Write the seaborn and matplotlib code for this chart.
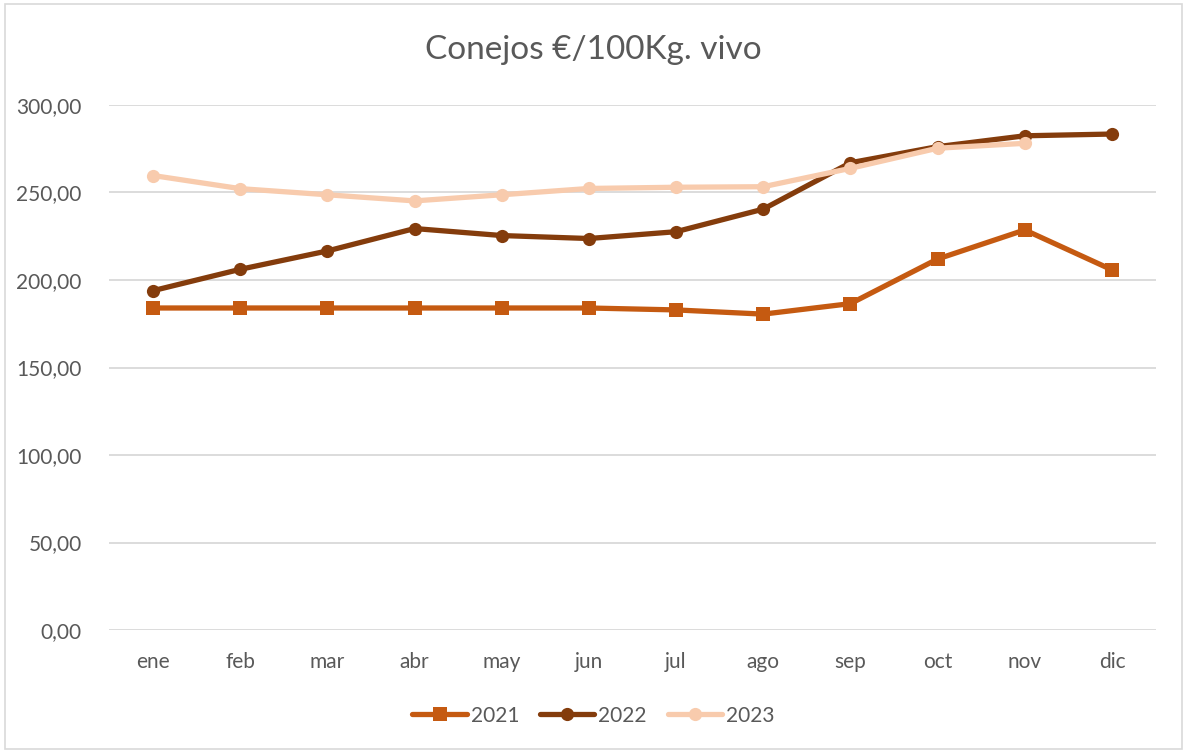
import matplotlib
matplotlib.use("Agg")
import matplotlib.pyplot as plt
import seaborn as sns
import pandas as pd
import numpy as np
from matplotlib.patches import Rectangle

months = ["ene", "feb", "mar", "abr", "may", "jun", "jul", "ago", "sep", "oct", "nov", "dic"]
v2021 = [184.0, 184.0, 184.0, 184.0, 184.0, 184.0, 182.9, 180.5, 186.5, 212.0, 228.6, 205.8]
v2022 = [193.9, 206.1, 216.6, 229.4, 225.4, 223.7, 227.6, 240.5, 267.0, 276.2, 282.4, 283.4]
v2023 = [259.7, 252.2, 248.7, 245.2, 248.7, 252.3, 253.0, 253.3, 263.8, 275.3, 278.1]
years = ["2021", "2022", "2023"]
series = [v2021, v2022, v2023]
yticks = [0, 50, 100, 150, 200, 250, 300]

rows = []
for yr, vals in zip(years, series):
    for i, v in enumerate(vals):
        rows.append({"pos": i, "mes": months[i], "valor": v, "año": yr})
df = pd.DataFrame(rows)

sns.set_theme(style="white")
plt.rcParams["font.family"] = ["Lato", "DejaVu Sans"]

colors = {"2021": "#C55A11", "2022": "#843C0C", "2023": "#F8CBAD"}
markers = {"2021": "s", "2022": "o", "2023": "o"}

fig = plt.figure(figsize=(11.87, 7.51), dpi=100)
ax = fig.add_axes([0.0922, 0.1611, 0.8813, 0.6991])

sns.lineplot(data=df, x="pos", y="valor", hue="año", style="año",
             palette=colors, markers=markers, dashes=False, linewidth=3.8,
             markersize=9.5, markeredgewidth=0, sort=False, ax=ax, legend=True)

ax.set_xlim(-0.5, 11.5)
ax.set_ylim(0, 300)
ax.set_yticks(yticks)
ax.set_yticklabels([f"{t:.2f}".replace(".", ",") for t in yticks], color="#595959", fontsize=15)
ax.set_xticks(range(len(months)))
ax.set_xticklabels(months, color="#595959", fontsize=15)
ax.tick_params(axis="both", length=0)
ax.tick_params(axis="x", pad=16)
ax.tick_params(axis="y", pad=20)
ax.yaxis.grid(True, color="#D9D9D9", linewidth=1.3)
ax.xaxis.grid(False)
for s in ax.spines.values():
    s.set_visible(False)
ax.set_xlabel("")
ax.set_ylabel("")

handles, labels = ax.get_legend_handles_labels()
ax.get_legend().remove()
fig.legend(handles, labels, loc="center", bbox_to_anchor=(0.5, 0.047), ncol=3,
           frameon=False, fontsize=15, labelcolor="#595959", handlelength=2.6,
           columnspacing=1.0, handletextpad=0.2)

fig.text(0.5, 0.933, "Conejos €/100Kg. vivo", ha="center", va="center",
         fontsize=24, color="#595959")

fig.patches.append(Rectangle((0.004, 0.003), 0.992, 0.992, transform=fig.transFigure,
                             fill=False, edgecolor="#D9D9D9", linewidth=1.2))

fig.savefig("out.png", dpi=100, facecolor="white")
